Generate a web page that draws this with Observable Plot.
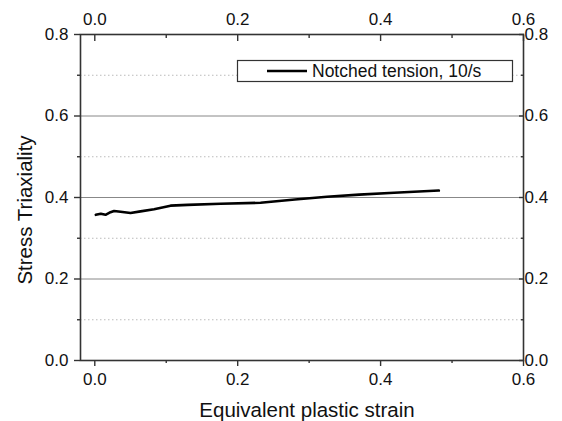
<!DOCTYPE html>
<html>
<head>
<meta charset="utf-8">
<script src="https://cdn.jsdelivr.net/npm/d3@7"></script>
<script src="https://cdn.jsdelivr.net/npm/@observablehq/plot@0.6"></script>
<style>
  html, body { margin: 0; padding: 0; background: #fff; }
  svg { display: block; }
</style>
</head>
<body>
<div id="chart"></div>
<script>
const strain = [0.0014, 0.0084, 0.015, 0.022, 0.027, 0.036, 0.050, 0.064, 0.083, 0.106, 0.130, 0.176, 0.232, 0.280, 0.325, 0.370, 0.419, 0.4815];
const triax  = [0.3575, 0.360, 0.3575, 0.364, 0.367, 0.365, 0.362, 0.366, 0.371, 0.380, 0.382, 0.3845, 0.387, 0.395, 0.402, 0.407, 0.4115, 0.417];
const seriesName = "Notched tension, 10/s";
const xMajor = [0, 0.2, 0.4, 0.6];
const xMinor = [0.1, 0.3, 0.5];
const yMajor = [0, 0.2, 0.4, 0.6, 0.8];
const yMinor = [0.1, 0.3, 0.5, 0.7];
const yGridMajor = [0.2, 0.4, 0.6];
const xTitle = "Equivalent plastic strain";
const yTitle = "Stress Triaxiality";

const data = strain.map((s, i) => ({strain: s, triax: triax[i]}));
const fmt = d3.format(".1f");
const font = "Liberation Sans, Arial, sans-serif";
const ax = "#333";

const chart = Plot.plot({
  width: 562,
  height: 421,
  marginLeft: 80,
  marginRight: 39,
  marginTop: 34,
  marginBottom: 61,
  style: {fontFamily: font, background: "#fff", color: "#111"},
  x: {domain: [-0.02, 0.6]},
  y: {domain: [0, 0.8]},
  marks: [
    Plot.ruleY(yMinor, {stroke: "#bbb", strokeDasharray: "1.5,2.5"}),
    Plot.ruleY(yGridMajor, {stroke: "#888"}),
    Plot.line(data, {x: "strain", y: "triax", stroke: "#000", strokeWidth: 2.6}),
    Plot.frame({stroke: ax, strokeWidth: 1.6}),
    // bottom axis
    Plot.axisX({anchor: "bottom", ticks: xMajor, tickSize: 6, tickPadding: 6, tickFormat: fmt, fontSize: 17, label: null, stroke: ax, strokeWidth: 1.4}),
    Plot.axisX({anchor: "bottom", ticks: xMinor, tickSize: 3, tickFormat: () => "", label: null, stroke: ax, strokeWidth: 1.4}),
    // top axis
    Plot.axisX({anchor: "top", ticks: xMajor, tickSize: 0, tickPadding: 10, tickFormat: fmt, fontSize: 17, label: null}),
    Plot.axisX({anchor: "top", ticks: xMajor, tickSize: -6, tickFormat: () => "", label: null, stroke: ax, strokeWidth: 1.4}),
    Plot.axisX({anchor: "top", ticks: xMinor, tickSize: -3, tickFormat: () => "", label: null, stroke: ax, strokeWidth: 1.4}),
    // left axis
    Plot.axisY({anchor: "left", ticks: yMajor, tickSize: 6, tickPadding: 6, tickFormat: fmt, fontSize: 17, label: null, stroke: ax, strokeWidth: 1.4}),
    Plot.axisY({anchor: "left", ticks: yMinor, tickSize: 3, tickFormat: () => "", label: null, stroke: ax, strokeWidth: 1.4}),
    // right axis
    Plot.axisY({anchor: "right", ticks: yMajor, tickSize: 0, tickPadding: 1, tickFormat: fmt, fontSize: 17, label: null}),
    Plot.axisY({anchor: "right", ticks: yMajor, tickSize: -5, tickFormat: () => "", label: null, stroke: ax, strokeWidth: 1.4}),
    Plot.axisY({anchor: "right", ticks: yMinor, tickSize: -3, tickFormat: () => "", label: null, stroke: ax, strokeWidth: 1.4})
  ]
});

const svg = d3.select(chart);

// axis titles
svg.append("text").attr("font-family", font).attr("font-size", 20.5).attr("fill", "#111")
  .attr("text-anchor", "middle").attr("x", 307).attr("y", 410).attr("dy", "0.35em").text(xTitle);
svg.append("text").attr("font-family", font).attr("font-size", 20.5).attr("fill", "#111")
  .attr("text-anchor", "middle").attr("transform", "translate(25,210) rotate(-90)").attr("dy", "0.35em").text(yTitle);

// legend
const lg = svg.append("g").attr("font-family", font);
lg.append("rect").attr("x", 237.5).attr("y", 60.5).attr("width", 275).attr("height", 21)
  .attr("fill", "#fff").attr("stroke", ax).attr("stroke-width", 1.2);
lg.append("line").attr("x1", 267).attr("x2", 307).attr("y1", 71).attr("y2", 71)
  .attr("stroke", "#000").attr("stroke-width", 2.6);
lg.append("text").attr("x", 312).attr("y", 71).attr("dy", "0.35em").attr("text-anchor", "start")
  .attr("font-size", 17.5).attr("fill", "#111").text(seriesName);

document.getElementById("chart").appendChild(chart);
</script>
</body>
</html>
